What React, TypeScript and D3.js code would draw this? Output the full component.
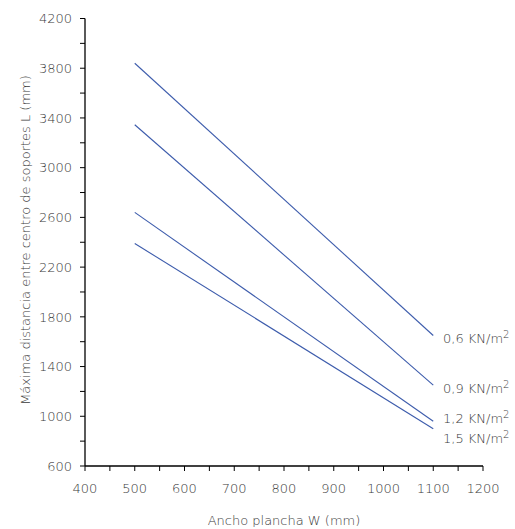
import React from "react";
import * as d3 from "d3";

const widths = [500, 1100];
const seriesNames = ["0,6 KN/m", "0,9 KN/m", "1,2 KN/m", "1,5 KN/m"];
const load06 = [3840, 1650];
const load09 = [3345, 1250];
const load12 = [2640, 960];
const load15 = [2390, 900];
const xTicks = [400, 500, 600, 700, 800, 900, 1000, 1100, 1200];
const yTicks = [600, 1000, 1400, 1800, 2200, 2600, 3000, 3400, 3800, 4200];
const labelBaselines = [343.3, 392.7, 423.3, 442.7];

const W = 515;
const H = 529;
const left = 85;
const right = 483;
const top = 18.5;
const bottom = 466;

export default function App() {
  const x = d3.scaleLinear().domain([400, 1200]).range([left, right]);
  const y = d3.scaleLinear().domain([600, 4200]).range([bottom, top]);
  const series = [load06, load09, load12, load15];
  const line = d3
    .line<[number, number]>()
    .x((d) => x(d[0]))
    .y((d) => y(d[1]));
  const xMinor = d3.range(400, 1201, 50);
  const yMinor = d3.range(600, 4201, 200);
  const font = "'DejaVu Sans', sans-serif";
  const fw = 200;
  const fs = 13;
  const textColor = "#3a3a3a";
  return (
    <svg
      width={W}
      height={H}
      style={{ position: "absolute", left: 0, top: 0, background: "#fff" }}
    >
      {series.map((s, i) => (
        <path
          key={i}
          d={line(widths.map((w, j) => [w, s[j]]) as [number, number][]) || ""}
          fill="none"
          stroke="#3d5cac"
          strokeWidth={1.1}
        />
      ))}
      {series.map((s, i) => (
        <text
          key={"l" + i}
          x={443}
          y={labelBaselines[i]}
          fontFamily={font}
          fontWeight={fw}
          fontSize={fs}
          fill={textColor}
        >
          {seriesNames[i]}
          <tspan dy={-5} fontSize={10}>
            2
          </tspan>
        </text>
      ))}
      <line x1={left} x2={right} y1={bottom} y2={bottom} stroke="#000" strokeWidth={1.3} />
      <line x1={left} x2={left} y1={top} y2={bottom} stroke="#000" strokeWidth={1.3} />
      {xMinor.map((v) => (
        <line key={"xt" + v} x1={x(v)} x2={x(v)} y1={bottom} y2={bottom + 5} stroke="#000" strokeWidth={1} />
      ))}
      {yMinor.map((v) => (
        <line key={"yt" + v} x1={left - 5} x2={left} y1={y(v)} y2={y(v)} stroke="#000" strokeWidth={1} />
      ))}
      {xTicks.map((v) => (
        <text
          key={"xl" + v}
          x={x(v)}
          y={493}
          textAnchor="middle"
          fontFamily={font}
          fontWeight={fw}
          fontSize={fs}
          fill={textColor}
        >
          {v}
        </text>
      ))}
      {yTicks.map((v) => (
        <text
          key={"yl" + v}
          x={72}
          y={y(v) + 4.7}
          textAnchor="end"
          fontFamily={font}
          fontWeight={fw}
          fontSize={fs}
          fill={textColor}
        >
          {v}
        </text>
      ))}
      <text
        x={284}
        y={525}
        textAnchor="middle"
        fontFamily={font}
        fontWeight={fw}
        fontSize={fs}
        fill={textColor}
      >
        Ancho plancha W (mm)
      </text>
      <text
        transform={`translate(29.5, 240) rotate(-90)`}
        textAnchor="middle"
        fontFamily={font}
        fontWeight={fw}
        fontSize={fs}
        fill={textColor}
      >
        Máxima distancia entre centro de soportes L (mm)
      </text>
    </svg>
  );
}
